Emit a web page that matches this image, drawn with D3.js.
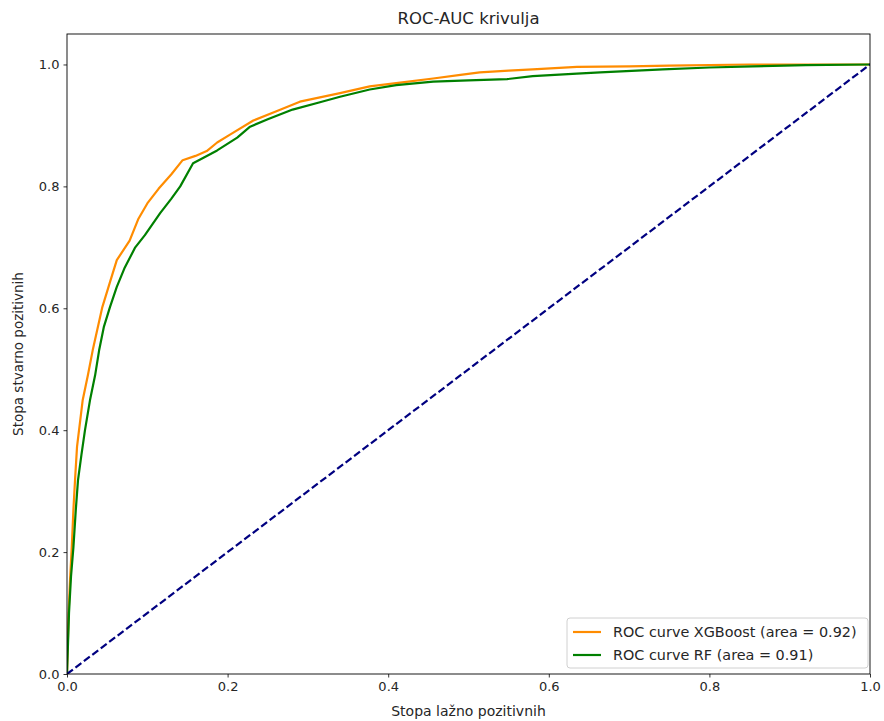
<!DOCTYPE html>
<html>
<head>
<meta charset="utf-8">
<script src="https://cdn.jsdelivr.net/npm/d3@7"></script>
<style>
  html, body { margin: 0; padding: 0; background: #fff; }
  text { font-family: "DejaVu Sans", sans-serif; fill: #262626; }
</style>
</head>
<body>
<svg id="chart" width="884" height="721"></svg>
<script>
// ROC curve for the XGBoost model: [false positive rate, true positive rate]
const xgbPoints = [
  [0,0],[0.001,0.05],[0.002,0.10],[0.004,0.16],[0.006,0.21],[0.008,0.27],[0.010,0.318],
  [0.0125,0.373],[0.0195,0.449],[0.026,0.49],[0.032,0.531],[0.044,0.602],[0.054,0.645],
  [0.062,0.679],[0.078,0.711],[0.089,0.747],[0.100,0.772],[0.114,0.796],[0.130,0.820],
  [0.144,0.843],[0.160,0.850],[0.174,0.858],[0.187,0.872],[0.203,0.885],[0.232,0.908],
  [0.260,0.923],[0.290,0.939],[0.315,0.946],[0.340,0.953],[0.377,0.964],[0.420,0.971],
  [0.456,0.977],[0.490,0.983],[0.514,0.987],[0.550,0.990],[0.580,0.992],[0.635,0.996],
  [0.700,0.997],[0.750,0.998],[0.850,1.0],[1,1]
];
// ROC curve for the random forest model
const rfPoints = [
  [0,0],[0.001,0.04],[0.0025,0.10],[0.005,0.16],[0.008,0.208],[0.011,0.27],[0.0137,0.318],
  [0.018,0.36],[0.0224,0.40],[0.0286,0.449],[0.035,0.49],[0.040,0.531],[0.046,0.57],
  [0.0535,0.602],[0.062,0.635],[0.072,0.667],[0.085,0.70],[0.097,0.72],[0.116,0.756],
  [0.130,0.780],[0.141,0.800],[0.157,0.838],[0.170,0.847],[0.187,0.859],[0.212,0.880],
  [0.228,0.898],[0.250,0.910],[0.281,0.926],[0.315,0.938],[0.340,0.947],[0.377,0.959],
  [0.410,0.966],[0.456,0.972],[0.500,0.974],[0.548,0.976],[0.580,0.981],[0.635,0.985],
  [0.664,0.987],[0.742,0.992],[0.800,0.995],[0.854,0.997],[0.920,0.999],[1,1]
];
// Chance diagonal
const chancePoints = [[0,0],[1,1]];

const seriesNames = ["ROC curve XGBoost (area = 0.92)", "ROC curve RF (area = 0.91)"];
const seriesColors = ["#ff8c00", "#008000"];
const xTicks = [0, 0.2, 0.4, 0.6, 0.8, 1.0];
const yTicks = [0, 0.2, 0.4, 0.6, 0.8, 1.0];
const titleText = "ROC-AUC krivulja";
const xLabel = "Stopa lažno pozitivnih";
const yLabel = "Stopa stvarno pozitivnih";

const margin = {left: 67, right: 14, top: 34, bottom: 47};
const W = 884, H = 721;
const svg = d3.select("#chart");

const x = d3.scaleLinear().domain([0, 1]).range([margin.left, W - margin.right]);
const y = d3.scaleLinear().domain([0, 1.05]).range([H - margin.bottom, margin.top]);

const line = d3.line().x(d => x(d[0])).y(d => y(d[1]));

svg.append("clipPath").attr("id", "plotclip").append("rect")
  .attr("x", x(0)).attr("y", y(1.05)).attr("width", x(1) - x(0)).attr("height", y(0) - y(1.05));

const plot = svg.append("g").attr("clip-path", "url(#plotclip)");

plot.append("path").datum(xgbPoints)
  .attr("d", line).attr("fill", "none").attr("stroke", seriesColors[0])
  .attr("stroke-width", 2.2).attr("stroke-linejoin", "round");
plot.append("path").datum(rfPoints)
  .attr("d", line).attr("fill", "none").attr("stroke", seriesColors[1])
  .attr("stroke-width", 2.2).attr("stroke-linejoin", "round");
plot.append("path").datum(chancePoints)
  .attr("d", line).attr("fill", "none").attr("stroke", "#000080")
  .attr("stroke-width", 2.2).attr("stroke-dasharray", "7.4,3.2");

// Axes
const fmt = d3.format(".1f");
const xAxis = svg.append("g").attr("transform", `translate(0,${y(0)})`)
  .call(d3.axisBottom(x).tickValues(xTicks).tickFormat(fmt).tickSize(3.5).tickPadding(4));
const yAxis = svg.append("g").attr("transform", `translate(${x(0)},0)`)
  .call(d3.axisLeft(y).tickValues(yTicks).tickFormat(fmt).tickSize(3.5).tickPadding(4));
[xAxis, yAxis].forEach(a => {
  a.select(".domain").remove();
  a.selectAll(".tick line").attr("stroke", "#000").attr("stroke-width", 0.8);
  a.selectAll(".tick text").attr("font-family", "DejaVu Sans").attr("font-size", 13).attr("fill", "#262626");
});

// Frame
svg.append("rect")
  .attr("x", x(0)).attr("y", y(1.05)).attr("width", x(1) - x(0)).attr("height", y(0) - y(1.05))
  .attr("fill", "none").attr("stroke", "#000").attr("stroke-width", 0.9);

// Title and axis labels
svg.append("text").attr("x", (x(0) + x(1)) / 2).attr("y", 24)
  .attr("text-anchor", "middle").attr("font-size", 16.5).text(titleText);
svg.append("text").attr("x", (x(0) + x(1)) / 2).attr("y", 716)
  .attr("text-anchor", "middle").attr("font-size", 14).text(xLabel);
svg.append("text").attr("transform", `translate(23,${(y(0) + y(1.05)) / 2}) rotate(-90)`)
  .attr("text-anchor", "middle").attr("font-size", 13.5).text(yLabel);

// Legend
const lg = svg.append("g").attr("transform", "translate(567,618)");
lg.append("rect").attr("x", 0).attr("y", 0).attr("width", 301).attr("height", 50)
  .attr("rx", 3).attr("fill", "#fff").attr("fill-opacity", 0.8)
  .attr("stroke", "#d0d0d0").attr("stroke-width", 1);
seriesNames.forEach((name, i) => {
  const cy = 14 + i * 23;
  lg.append("line").attr("x1", 6).attr("x2", 34).attr("y1", cy).attr("y2", cy)
    .attr("stroke", seriesColors[i]).attr("stroke-width", 2.2);
  lg.append("text").attr("x", 46).attr("y", cy).attr("dy", "0.35em")
    .attr("font-size", 14.4).text(name);
});
</script>
</body>
</html>
